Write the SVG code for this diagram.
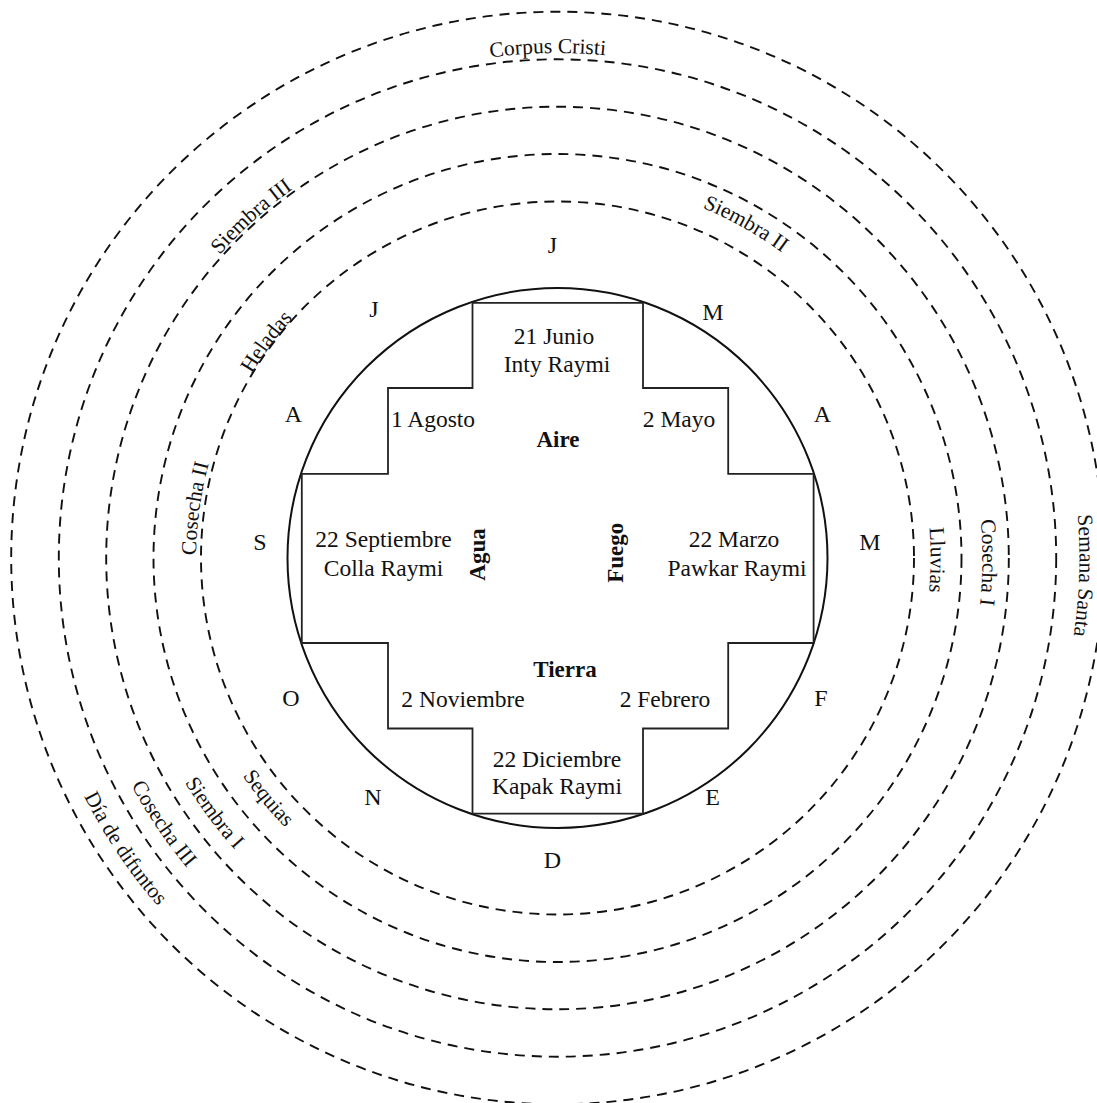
<svg xmlns="http://www.w3.org/2000/svg" xmlns:xlink="http://www.w3.org/1999/xlink" width="1097" height="1103" viewBox="0 0 1097 1103">
<style>
.ring{fill:none;stroke:#111;stroke-width:1.9;stroke-dasharray:10 7}
.solid{fill:none;stroke:#111;stroke-width:2}
.cross{fill:none;stroke:#222;stroke-width:1.8}
text{font-family:"Liberation Serif","Times New Roman",serif;fill:#111}
.in{font-size:23.5px;text-anchor:middle}
.el{font-size:23px;font-weight:bold;text-anchor:middle}
.mo{font-size:24px;text-anchor:middle}
.arc{font-size:21.5px}
</style>
<defs>
<path id="pCorpus" d="M225.5,177.4 A505,505 0 0 1 874.6,165.0"/>
<path id="pSiembra3" d="M108.0,494.0 A454,454 0 0 1 542.4,104.2"/>
<path id="pHeladas" d="M201.1,579.2 A357,357 0 0 1 474.8,210.7"/>
<path id="pCosecha2" d="M252.0,750.4 A360,360 0 0 1 315.0,290.6"/>
<path id="pSiembra2" d="M487.8,185.5 A379,379 0 0 1 912.3,424.7"/>
<path id="pLluvias" d="M844.5,319.7 A373,373 0 0 1 842.0,799.3"/>
<path id="pCosecha1" d="M885.9,288.3 A425,425 0 0 1 880.2,834.6"/>
<path id="pSemana" d="M968.3,235.9 A522,522 0 0 1 946.0,906.6"/>
<path id="pSequias" d="M174.5,556.0 A383,383 0 0 0 489.0,934.8"/>
<path id="pSiembra1" d="M123.3,532.2 A435,435 0 0 0 456.7,981.2"/>
<path id="pCosecha3" d="M77.2,507.5 A483,483 0 0 0 424.4,1022.3"/>
<path id="pDia" d="M30.5,501.7 A530,530 0 0 0 410.5,1067.2"/>
</defs>
<rect width="1097" height="1103" fill="#fff"/>
<g id="rings">
<circle class="ring" cx="557.5" cy="558" r="356.5"/>
<circle class="ring" cx="557.5" cy="558" r="404"/>
<circle class="ring" cx="557.5" cy="558" r="451.3"/>
<circle class="ring" cx="557.5" cy="558" r="498.7"/>
<circle class="ring" cx="557.5" cy="558" r="546.3"/>
</g>
<g id="circle">
<circle class="solid" cx="557.5" cy="558" r="270"/>
</g>
<g id="chakana">
<path class="cross" d="M472.5,302.8 H643 V388 H728.2 V473.8 H813.6 V643 H728.2 V728.5 H643 V813.6 H472.5 V728.5 H388 V643 H301.8 V473.8 H388 V388 H472.5 Z"/>
</g>
<g id="node-junio"><text class="in" x="554" y="344">21 Junio</text><text class="in" x="557" y="372">Inty Raymi</text></g>
<g id="node-agosto"><text class="in" x="433" y="427">1 Agosto</text></g>
<g id="node-mayo"><text class="in" x="679" y="427">2 Mayo</text></g>
<g id="node-aire"><text class="el" x="558" y="447">Aire</text></g>
<g id="node-septiembre"><text class="in" x="383.5" y="547">22 Septiembre</text><text class="in" x="383.5" y="575.5">Colla Raymi</text></g>
<g id="node-agua"><text class="el" transform="translate(485,554.5) rotate(-90)">Agua</text></g>
<g id="node-fuego"><text class="el" transform="translate(623,552.7) rotate(-90)">Fuego</text></g>
<g id="node-marzo"><text class="in" x="734" y="547">22 Marzo</text><text class="in" x="737" y="575.5">Pawkar Raymi</text></g>
<g id="node-tierra"><text class="el" x="565" y="677">Tierra</text></g>
<g id="node-noviembre"><text class="in" x="463" y="707">2 Noviembre</text></g>
<g id="node-febrero"><text class="in" x="665" y="707">2 Febrero</text></g>
<g id="node-diciembre"><text class="in" x="557" y="766.5">22 Diciembre</text><text class="in" x="557" y="794">Kapak Raymi</text></g>
<g id="months">
<text class="mo" x="552.5" y="253">J</text>
<text class="mo" x="713" y="319.5">M</text>
<text class="mo" x="822.5" y="422">A</text>
<text class="mo" x="870" y="550">M</text>
<text class="mo" x="821" y="706">F</text>
<text class="mo" x="712.5" y="805">E</text>
<text class="mo" x="552.5" y="868">D</text>
<text class="mo" x="373" y="805">N</text>
<text class="mo" x="291" y="706">O</text>
<text class="mo" x="260" y="550">S</text>
<text class="mo" x="293.3" y="422">A</text>
<text class="mo" x="374" y="317">J</text>
</g>
<g id="ring-labels">
<text class="arc"><textPath xlink:href="#pCorpus" href="#pCorpus" startOffset="50%" text-anchor="middle">Corpus Cristi</textPath></text>
<text class="arc"><textPath xlink:href="#pSiembra3" href="#pSiembra3" startOffset="50%" text-anchor="middle">Siembra III</textPath></text>
<text class="arc"><textPath xlink:href="#pHeladas" href="#pHeladas" startOffset="50%" text-anchor="middle">Heladas</textPath></text>
<text class="arc"><textPath xlink:href="#pCosecha2" href="#pCosecha2" startOffset="50%" text-anchor="middle">Cosecha II</textPath></text>
<text class="arc"><textPath xlink:href="#pSiembra2" href="#pSiembra2" startOffset="50%" text-anchor="middle">Siembra II</textPath></text>
<text class="arc"><textPath xlink:href="#pLluvias" href="#pLluvias" startOffset="50%" text-anchor="middle">Lluvias</textPath></text>
<text class="arc"><textPath xlink:href="#pCosecha1" href="#pCosecha1" startOffset="50%" text-anchor="middle">Cosecha I</textPath></text>
<text class="arc"><textPath xlink:href="#pSemana" href="#pSemana" startOffset="50%" text-anchor="middle">Semana Santa</textPath></text>
<text class="arc"><textPath xlink:href="#pSequias" href="#pSequias" startOffset="50%" text-anchor="middle">Sequias</textPath></text>
<text class="arc"><textPath xlink:href="#pSiembra1" href="#pSiembra1" startOffset="50%" text-anchor="middle">Siembra I</textPath></text>
<text class="arc"><textPath xlink:href="#pCosecha3" href="#pCosecha3" startOffset="50%" text-anchor="middle">Cosecha III</textPath></text>
<text class="arc"><textPath xlink:href="#pDia" href="#pDia" startOffset="50%" text-anchor="middle">Día de difuntos</textPath></text>
</g>
</svg>
